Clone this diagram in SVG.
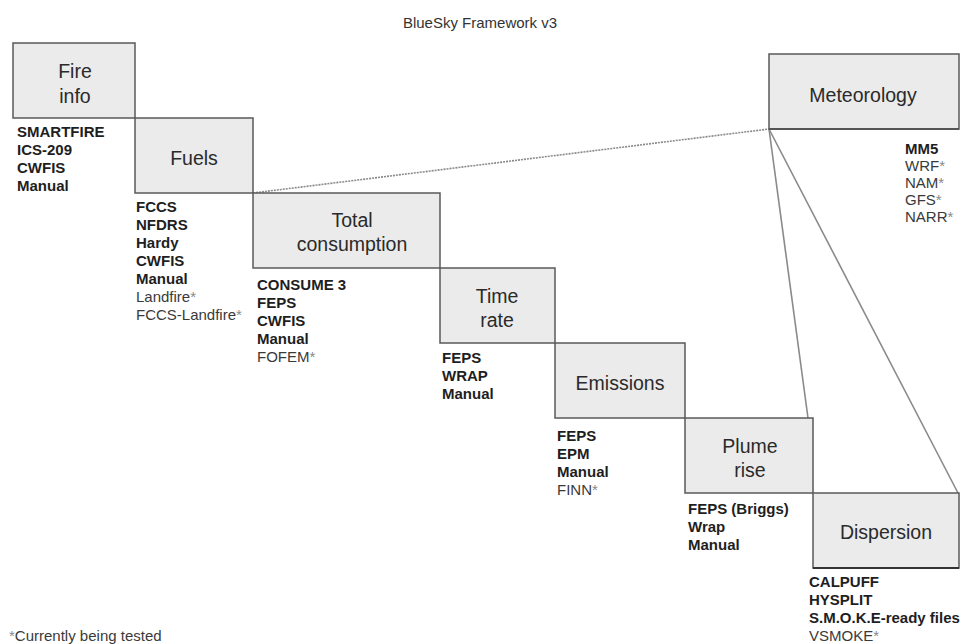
<svg xmlns="http://www.w3.org/2000/svg" width="961" height="644" viewBox="0 0 961 644">
<style>
.box{fill:#ebebeb;stroke:#5a5a5a;stroke-width:1.5}
.lbl{font-family:"Liberation Sans",Arial,sans-serif;font-size:19.5px;fill:#2a2a2a;text-anchor:middle}
.b{font-family:"Liberation Sans",Arial,sans-serif;font-size:15px;font-weight:bold;fill:#1e1e1e}
.r{font-family:"Liberation Sans",Arial,sans-serif;font-size:15px;fill:#3a3a3a}
.ast{fill:#8a8a8a}
.title{font-family:"Liberation Sans",Arial,sans-serif;font-size:15px;fill:#333;text-anchor:middle}
.ln{stroke:#8a8a8a;stroke-width:1.6;fill:none}
.dot{stroke:#8a8a8a;stroke-width:1.6;fill:none;stroke-dasharray:2 1}
</style>
<rect width="961" height="644" fill="#fff"/>
<text class="title" x="480" y="28">BlueSky Framework v3</text>

<g id="connectors">
<line class="dot" x1="253" y1="193" x2="769" y2="129"/>
<line class="ln" x1="769" y1="129" x2="808" y2="418"/>
<line class="ln" x1="769" y1="129" x2="958" y2="493"/>
</g>

<g id="fire-info">
<rect class="box" x="13" y="43" width="122" height="75"/>
<text class="lbl" x="75" y="78">Fire</text>
<text class="lbl" x="75" y="103">info</text>
<text class="b" x="17" y="137">SMARTFIRE</text>
<text class="b" x="17" y="155">ICS-209</text>
<text class="b" x="17" y="173">CWFIS</text>
<text class="b" x="17" y="191">Manual</text>
</g>

<g id="fuels">
<rect class="box" x="135" y="118" width="118" height="75"/>
<text class="lbl" x="194" y="165">Fuels</text>
<text class="b" x="136" y="212">FCCS</text>
<text class="b" x="136" y="230">NFDRS</text>
<text class="b" x="136" y="248">Hardy</text>
<text class="b" x="136" y="266">CWFIS</text>
<text class="b" x="136" y="284">Manual</text>
<text class="r" x="136" y="302">Landfire<tspan class="ast">*</tspan></text>
<text class="r" x="136" y="320">FCCS-Landfire<tspan class="ast">*</tspan></text>
</g>

<g id="total-consumption">
<rect class="box" x="253" y="193" width="187" height="75"/>
<text class="lbl" x="352" y="227">Total</text>
<text class="lbl" x="352" y="251">consumption</text>
<text class="b" x="257" y="290">CONSUME 3</text>
<text class="b" x="257" y="308">FEPS</text>
<text class="b" x="257" y="326">CWFIS</text>
<text class="b" x="257" y="344">Manual</text>
<text class="r" x="257" y="362">FOFEM<tspan class="ast">*</tspan></text>
</g>

<g id="time-rate">
<rect class="box" x="440" y="268" width="115" height="75"/>
<text class="lbl" x="497" y="303">Time</text>
<text class="lbl" x="497" y="327">rate</text>
<text class="b" x="442" y="363">FEPS</text>
<text class="b" x="442" y="381">WRAP</text>
<text class="b" x="442" y="399">Manual</text>
</g>

<g id="emissions">
<rect class="box" x="555" y="343" width="130" height="75"/>
<text class="lbl" x="620" y="390">Emissions</text>
<text class="b" x="557" y="441">FEPS</text>
<text class="b" x="557" y="459">EPM</text>
<text class="b" x="557" y="477">Manual</text>
<text class="r" x="557" y="495">FINN<tspan class="ast">*</tspan></text>
</g>

<g id="plume-rise">
<rect class="box" x="685" y="418" width="128" height="75"/>
<text class="lbl" x="750" y="453">Plume</text>
<text class="lbl" x="750" y="477">rise</text>
<text class="b" x="688" y="514">FEPS (Briggs)</text>
<text class="b" x="688" y="532">Wrap</text>
<text class="b" x="688" y="550">Manual</text>
</g>

<g id="dispersion">
<rect class="box" x="813" y="493" width="146" height="75"/>
<line x1="813" y1="568" x2="959" y2="568" stroke="#333" stroke-width="2"/>
<text class="lbl" x="886" y="539">Dispersion</text>
<text class="b" x="809" y="587">CALPUFF</text>
<text class="b" x="809" y="605">HYSPLIT</text>
<text class="b" x="809" y="623">S.M.O.K.E-ready files</text>
<text class="r" x="809" y="641">VSMOKE<tspan class="ast">*</tspan></text>
</g>

<g id="meteorology">
<rect class="box" x="769" y="54" width="190" height="75"/>
<line x1="769" y1="129" x2="959" y2="129" stroke="#555" stroke-width="2"/>
<text class="lbl" x="863" y="102">Meteorology</text>
<text class="b" x="905" y="154">MM5</text>
<text class="r" x="905" y="171">WRF<tspan class="ast">*</tspan></text>
<text class="r" x="905" y="188">NAM<tspan class="ast">*</tspan></text>
<text class="r" x="905" y="205">GFS<tspan class="ast">*</tspan></text>
<text class="r" x="905" y="222">NARR<tspan class="ast">*</tspan></text>
</g>

<text class="r" x="9" y="641"><tspan class="ast">*</tspan>Currently being tested</text>
</svg>
